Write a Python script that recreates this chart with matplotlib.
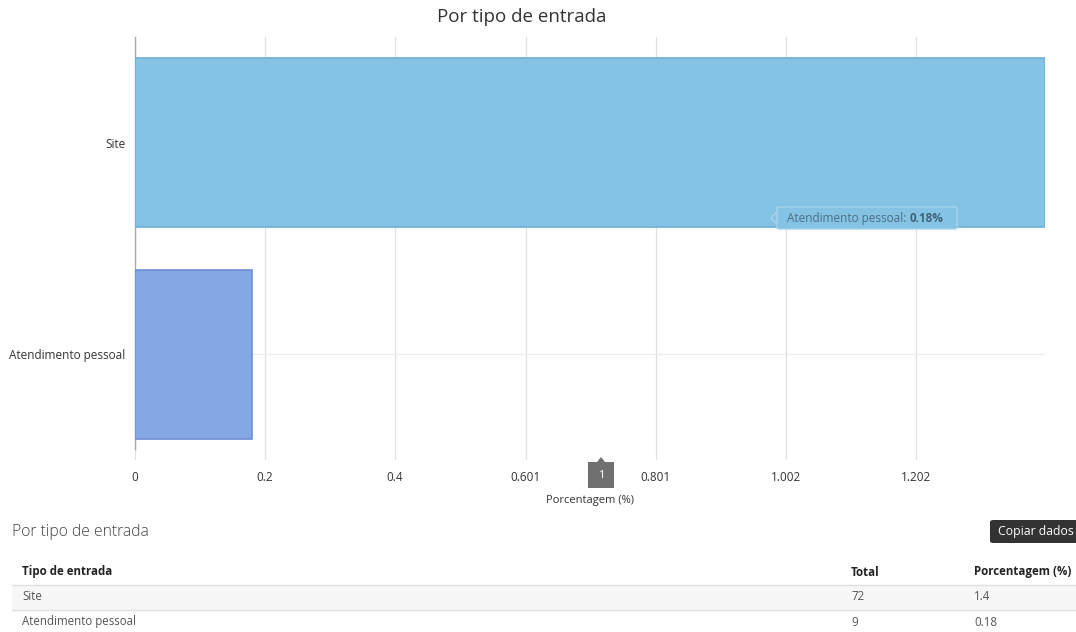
import matplotlib
matplotlib.use("Agg")
import matplotlib.pyplot as plt
from matplotlib.patches import FancyBboxPatch, Rectangle, Polygon

plt.rcParams['font.family'] = ['Open Sans', 'DejaVu Sans']

# ---- data ----
categories = ["Site", "Atendimento pessoal"]
percentages = [1.4, 0.18]
totals = [72, 9]
table_pct_labels = ["1.4", "0.18"]
tick_labels = ["0", "0.2", "0.4", "0.601", "0.801", "1.002", "1.202"]
bar_colors = ["#84c3e3", "#84a8e3"]
edge_colors = ["#6fb0d4", "#6e8fd0"]
title = "Por tipo de entrada"
xlabel = "Porcentagem (%)"
tooltip_name = "Atendimento pessoal"
tooltip_value = "0.18%"

W, H = 1076, 632
fig = plt.figure(figsize=(W / 100, H / 100), dpi=100)

def fx(px):
    return px / W

def fy(py):
    return 1 - py / H

ax = fig.add_axes([fx(135), fy(460), fx(1045) - fx(135), fy(37) - fy(460)])
ypos = list(range(len(categories)))
ax.barh(ypos, percentages, height=0.8, color=bar_colors, edgecolor=edge_colors, linewidth=1.2, zorder=3)
ax.set_xlim(0, 1.4)
ax.set_ylim(len(categories) - 0.5, -0.5)
ticks = [float(t) for t in tick_labels]
ax.set_xticks(ticks)
ax.set_xticklabels(tick_labels, fontsize=8.5, color="#333333")
ax.set_yticks(ypos)
ax.set_yticklabels(categories, fontsize=8.5, color="#333333")
ax.tick_params(axis='x', length=0, pad=8)
ax.tick_params(axis='y', length=0, pad=7)
ax.grid(axis='x', color="#e0e0e0", linewidth=0.9, zorder=0)
ax.grid(axis='y', color="#ececec", linewidth=0.9, zorder=0)
for s in ["top", "right", "bottom"]:
    ax.spines[s].set_visible(False)
ax.spines["left"].set_color("#aaaaaa")
ax.spines["left"].set_linewidth(1.0)
ax.spines["left"].set_bounds(len(categories) - 0.5 - 0.05, -0.5)

# title
fig.text(fx(522), fy(17), title, ha='center', va='center', fontsize=13.5, color="#333333")
# x label
fig.text(fx(590), fy(500), xlabel, ha='center', va='center', fontsize=8, color="#333333")

# crosshair marker "1"
fig.patches.append(Rectangle((fx(588), fy(488)), fx(26), fy(462) - fy(488), transform=fig.transFigure,
                             facecolor="#707070", edgecolor="none"))
fig.patches.append(Polygon([(fx(597), fy(462)), (fx(601), fy(457)), (fx(605), fy(462))], closed=True,
                           transform=fig.transFigure, facecolor="#707070", edgecolor="none"))
fig.text(fx(601), fy(475), "1", ha='center', va='center', fontsize=8, color="white")

# tooltip
fig.patches.append(FancyBboxPatch((fx(777), fy(229)), fx(180), fy(207) - fy(229),
                                  boxstyle="round,pad=0.0,rounding_size=0.002", transform=fig.transFigure,
                                  facecolor="#84c3e3", edgecolor="#a6d4ec", linewidth=1.0, zorder=5))
fig.patches.append(Polygon([(fx(777), fy(212)), (fx(771), fy(218)), (fx(777), fy(224))], closed=True,
                           transform=fig.transFigure, facecolor="#84c3e3", edgecolor="#a6d4ec", linewidth=1.0, zorder=5))
t1 = fig.text(fx(787), fy(218), tooltip_name + ": ", ha='left', va='center', fontsize=8.5, color="#4a6f85", zorder=6)
fig.canvas.draw()
bb = t1.get_window_extent()
fig.text(bb.x1 / W, fy(218), tooltip_value, ha='left', va='center', fontsize=8.5, color="#3f6378",
         fontweight='bold', zorder=6)

# ---- table section ----
fig.text(fx(12), fy(532), title, ha='left', va='center', fontsize=11.3, color="#444444", fontweight='light')
fig.patches.append(FancyBboxPatch((fx(990), fy(543)), fx(90), fy(520) - fy(543),
                                  boxstyle="round,pad=0.0,rounding_size=0.003", transform=fig.transFigure,
                                  facecolor="#333333", edgecolor="none"))
fig.text(fx(998), fy(532), "Copiar dados", ha='left', va='center', fontsize=8.8, color="white")

hdr = dict(ha='left', va='center', fontsize=8.3, color="#222222", fontweight='bold')
fig.text(fx(22), fy(572), "Tipo de entrada", **hdr)
fig.text(fx(851), fy(572), "Total", **hdr)
fig.text(fx(974), fy(572), "Porcentagem (%)", **hdr)

row_tops = [585, 610]
for i, (cat, tot, pl) in enumerate(zip(categories, totals, table_pct_labels)):
    top = row_tops[i]
    if i % 2 == 0:
        fig.patches.append(Rectangle((fx(12), fy(top + 25)), fx(1076) - fx(12), fy(top) - fy(top + 25),
                                     transform=fig.transFigure, facecolor="#f7f7f7", edgecolor="none"))
    fig.lines.append(plt.Line2D([fx(12), 1], [fy(top), fy(top)], transform=fig.transFigure,
                                color="#e0e0e0", linewidth=1.0))
    yc = top + 12
    fig.text(fx(22), fy(yc), cat, ha='left', va='center', fontsize=8.3, color="#555555")
    fig.text(fx(851), fy(yc), str(tot), ha='left', va='center', fontsize=8.3, color="#555555")
    fig.text(fx(974), fy(yc), pl, ha='left', va='center', fontsize=8.3, color="#555555")

fig.savefig("out.png", dpi=100)
